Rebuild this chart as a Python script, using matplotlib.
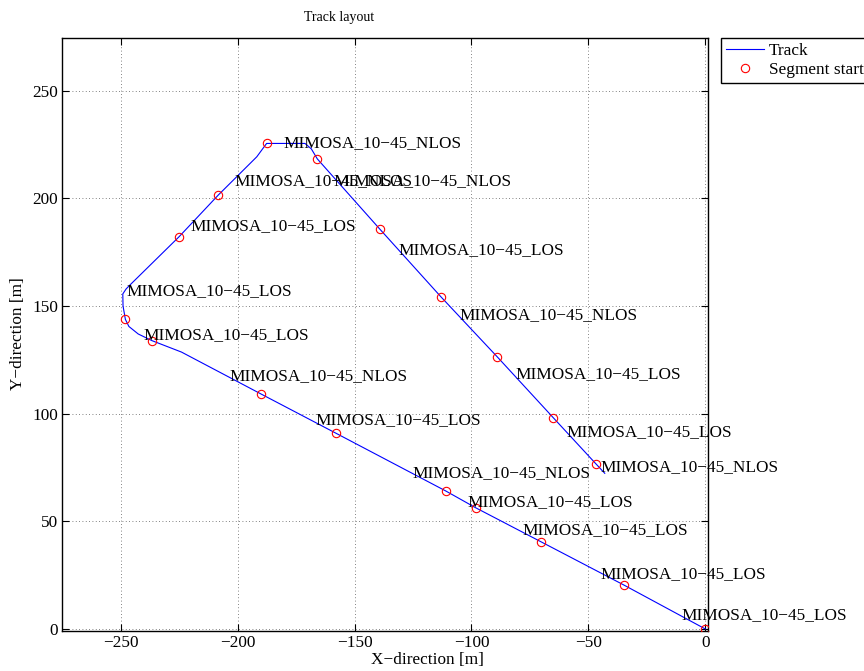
import matplotlib
matplotlib.use("Agg")
import matplotlib.pyplot as plt

plt.rcParams["font.family"] = ["Liberation Serif", "DejaVu Serif"]
plt.rcParams["axes.unicode_minus"] = True

# track centre line [m], starting at the origin
track_x = [0.0, -34.8, -70.1, -98.2, -111.0, -158.1, -190.1, -224.0, -236.6, -242.5,
           -246.5, -248.0, -249.0, -249.1, -247.7, -246.0, -225.1, -208.2, -191.8,
           -187.6, -171.2, -168.5, -165.9, -139.1, -113.0, -88.9, -65.0, -46.7, -43.0]
track_y = [0.0, 20.4, 40.4, 56.3, 64.1, 91.0, 109.2, 128.6, 133.9, 137.0,
           140.5, 143.8, 150.0, 155.6, 157.9, 159.8, 182.1, 201.6, 219.3,
           225.5, 225.5, 223.0, 218.3, 185.6, 154.2, 126.3, 98.1, 76.6, 72.3]

# segment start positions [m]
seg_x = [-187.6, -165.9, -208.2, -225.1, -139.1, -113.0, -88.9, -65.0, -46.7,
         -248.0, -236.6, -190.1, -158.1, -111.0, -98.2, -70.1, -34.8, 0.0]
seg_y = [225.5, 218.3, 201.6, 182.1, 185.6, 154.2, 126.3, 98.1, 76.6,
         143.8, 133.9, 109.2, 91.0, 64.1, 56.3, 40.4, 20.4, 0.0]

# segment names and where they are written
LOS = "MIMOSA_10\u221245_LOS"
NLOS = "MIMOSA_10\u221245_NLOS"
label_x = [-180.4, -201.5, -159.1, -220.1, -131.3, -247.7, -105.3, -240.3, -203.6,
           -81.4, -166.9, -59.3, -45.0, -125.3, -101.8, -78.3, -45.0, -10.1]
label_y = [225.6, 208.2, 208.1, 187.2, 176.0, 157.1, 145.8, 136.5, 117.4,
           118.4, 96.8, 91.6, 75.1, 72.3, 59.1, 46.0, 25.5, 6.5]
label_txt = [NLOS, NLOS, NLOS, LOS, LOS, LOS, NLOS, LOS, NLOS,
             LOS, LOS, LOS, NLOS, NLOS, LOS, LOS, LOS, LOS]

fs = 12.4

fig = plt.figure(figsize=(8.64, 6.71), dpi=100)
ax = fig.add_axes([62 / 864, 40.3 / 671, 646 / 864, 593.2 / 671])

ax.plot(track_x, track_y, color="blue", lw=0.8, label="Track", zorder=3)
ax.plot(seg_x, seg_y, "o", mfc="none", mec="red", ms=6, mew=0.8,
        label="Segment start", zorder=4)
for x, y, s in zip(label_x, label_y, label_txt):
    ax.text(x, y, s, fontsize=fs, ha="left", va="center", zorder=5)

ax.set_xlim(-275.1, 1.15)
ax.set_ylim(-0.8, 274.7)
ax.set_xticks([-250, -200, -150, -100, -50, 0])
ax.set_yticks([0, 50, 100, 150, 200, 250])
ax.tick_params(direction="in", top=True, right=True, length=5, width=0.8,
               labelsize=fs, pad=3)
ax.grid(True, color="0.35", linestyle=(0, (1, 3)), linewidth=0.6)
for sp in ax.spines.values():
    sp.set_linewidth(1.0)

fig.text(339 / 864, 1 - 17 / 671, "Track layout", fontsize=10, ha="center", va="center")
fig.text(427 / 864, 1 - 660 / 671, "X\u2212direction [m]", fontsize=fs,
         ha="center", va="center")
fig.text(18 / 864, 1 - 334 / 671, "Y\u2212direction [m]", fontsize=fs,
         ha="center", va="center", rotation=90)

leg = fig.legend(loc="upper left", bbox_to_anchor=(720.7 / 864, 1 - 37.5 / 671),
                 borderaxespad=0, fontsize=fs, numpoints=1, fancybox=False,
                 framealpha=1, edgecolor="black", handlelength=2.2,
                 handletextpad=0.3, labelspacing=0.2, borderpad=0.3)
leg.get_frame().set_linewidth(1.0)

fig.savefig("out.png", dpi=100)
